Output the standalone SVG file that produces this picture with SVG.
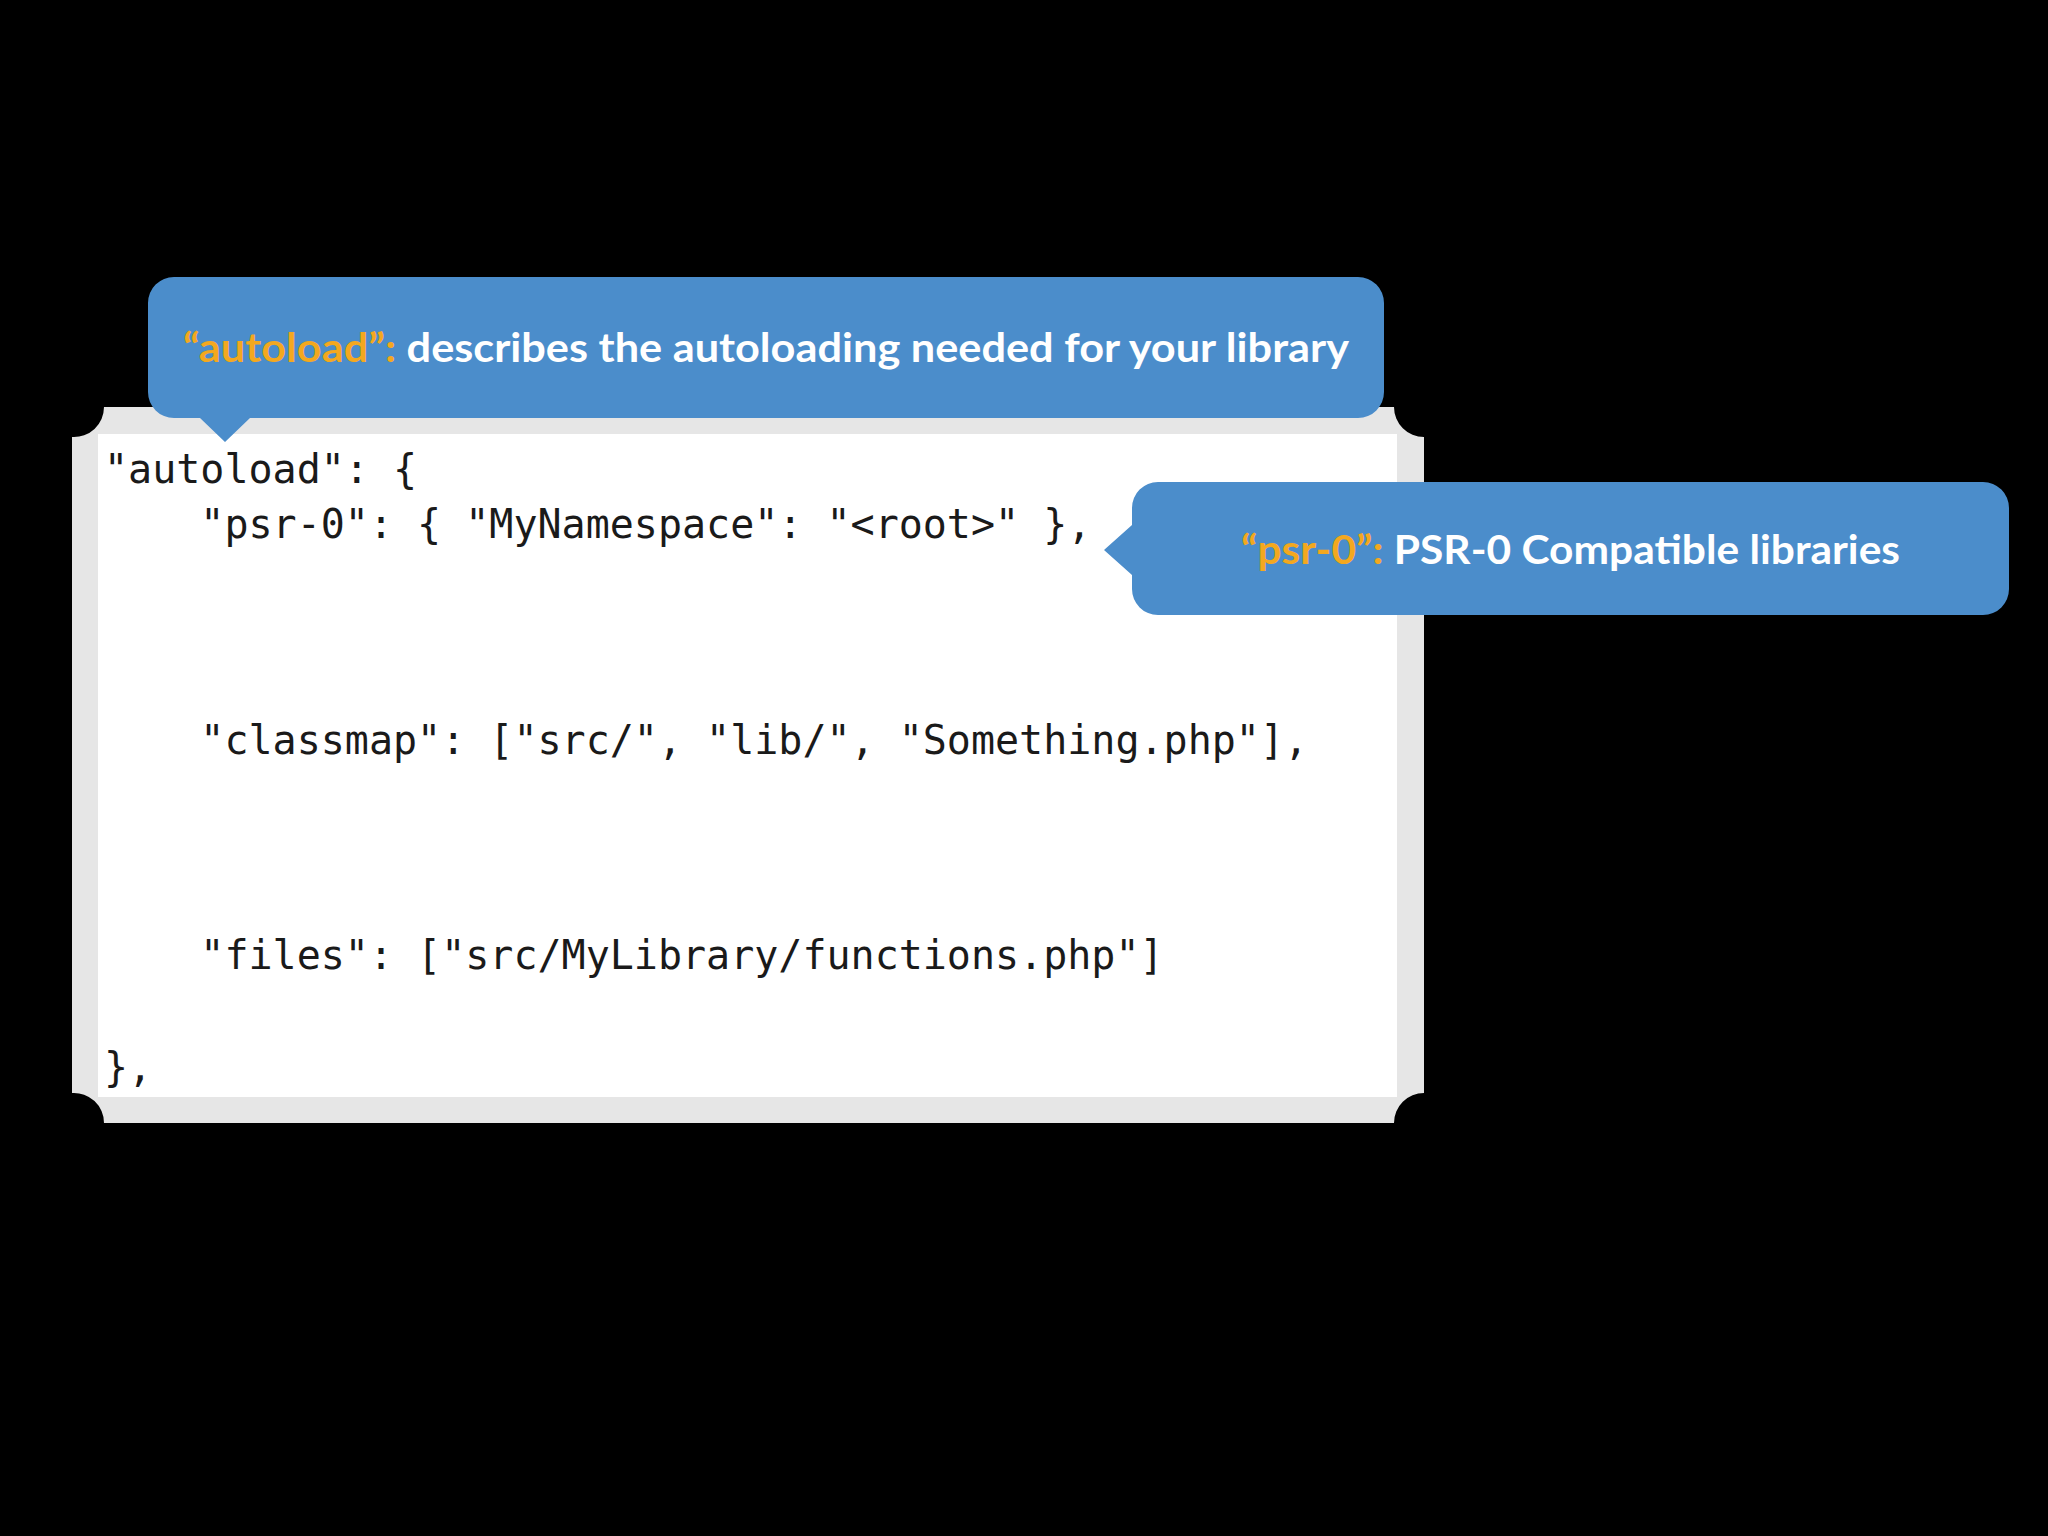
<svg xmlns="http://www.w3.org/2000/svg" width="2048" height="1536" viewBox="0 0 2048 1536">
<style>
.code{font-family:"DejaVu Sans Mono","Liberation Mono",monospace;font-size:40px;fill:#1a1a1a}
.call{font-family:Lato,"Open Sans",sans-serif;font-size:40px;font-weight:bold;fill:#ffffff}
.hl{fill:#f3a81f}
.bubble{fill:#4b8dcb}
</style>
<rect width="2048" height="1536" fill="#000"/>
<g id="panel">
<path d="M104,407 H1394 A30,30 0 0 0 1424,437 V1093 A30,30 0 0 0 1394,1123 H104 A30,30 0 0 0 72,1093 V437 A30,30 0 0 0 104,407 Z" fill="#e6e6e6"/>
<rect x="98" y="434" width="1299" height="663" fill="#ffffff"/>
<text class="code" x="104" y="483" xml:space="preserve">"autoload": {</text>
<text class="code" x="104" y="538" xml:space="preserve">    "psr-0": { "MyNamespace": "&lt;root&gt;" },</text>
<text class="code" x="104" y="754" xml:space="preserve">    "classmap": ["src/", "lib/", "Something.php"],</text>
<text class="code" x="104" y="969" xml:space="preserve">    "files": ["src/MyLibrary/functions.php"]</text>
<text class="code" x="104" y="1081" xml:space="preserve">},</text>
</g>
<g id="callout-autoload">
<path class="bubble" d="M178,277 H1358 A26,26 0 0 1 1384,303 V392 A26,26 0 0 1 1358,418 H250 L225,442 L200,418 H174 A26,26 0 0 1 148,392 V303 A26,26 0 0 1 174,277 Z"/>
<text class="call" x="183" y="362" textLength="1166" lengthAdjust="spacingAndGlyphs"><tspan class="hl">“autoload”:</tspan> describes the autoloading needed for your library</text>
</g>
<g id="callout-psr0">
<path class="bubble" d="M1158,482 H1983 A26,26 0 0 1 2009,508 V589 A26,26 0 0 1 1983,615 H1158 A26,26 0 0 1 1132,589 V575 L1104,550 L1132,525 V508 A26,26 0 0 1 1158,482 Z"/>
<text class="call" x="1241" y="564" textLength="659" lengthAdjust="spacingAndGlyphs"><tspan class="hl">“psr-0”:</tspan> PSR-0 Compatible libraries</text>
</g>
</svg>
